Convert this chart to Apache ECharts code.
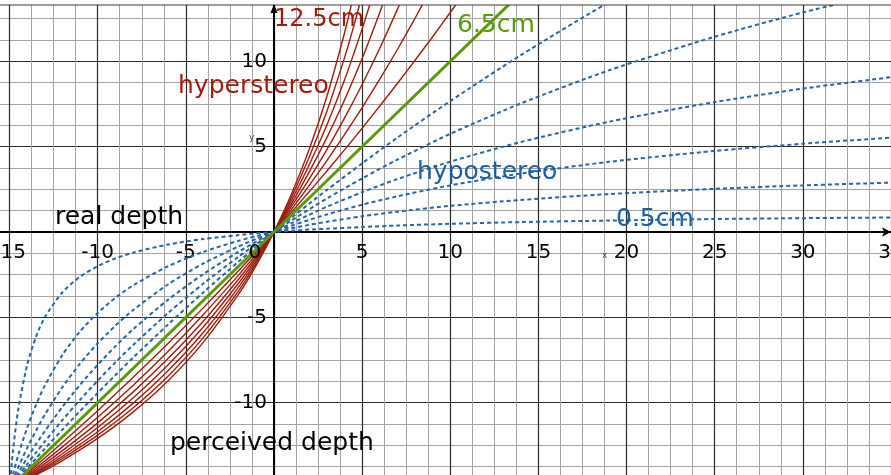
<!DOCTYPE html>
<html><head><meta charset="utf-8">
<script src="https://cdn.jsdelivr.net/npm/echarts@6/dist/echarts.min.js"></script>
<style>html,body{margin:0;padding:0;background:#fff}#c{width:891px;height:475px}</style>
</head><body><div id="c"></div>
<script>
// x: real depth, y: perceived depth, curves labelled by camera baseline
const xTicks = [-20,-15,-10,-5,0,5,10,15,20,25,30,35];
const yTicks = [-15,-10,-5,0,5,10,15];
const yTickLabels = [-10,-5,5,10];
const originLabel = '0';

const hypo_0_5 = [[-15,-15],[-14.8,-12.76],[-14.5,-10.36],[-14,-7.78],[-13.5,-6.14],[-13,-5.0],[-12,-3.53],[-11,-2.62],[-10,-2.0],[-9,-1.55],[-8,-1.21],[-6,-0.73],[-4,-0.41],[-2,-0.18],[-1,-0.08],[0,0],[1,0.07],[2,0.14],[3,0.19],[5,0.29],[7,0.38],[10,0.48],[14,0.58],[19,0.67],[25,0.76],[30,0.81],[35,0.85]];
const hypo_1_5 = [[-15,-15],[-14.8,-14.17],[-14.5,-13.05],[-14,-11.46],[-13.5,-10.13],[-13,-9.0],[-12,-7.2],[-11,-5.82],[-10,-4.74],[-9,-3.86],[-8,-3.13],[-6,-2.0],[-4,-1.16],[-2,-0.51],[-1,-0.24],[0,0],[1,0.22],[2,0.42],[3,0.6],[5,0.92],[7,1.19],[10,1.53],[14,1.88],[19,2.22],[25,2.53],[30,2.73],[35,2.89]];
const hypo_2_5 = [[-15,-15],[-14.8,-14.49],[-14.5,-13.77],[-14,-12.65],[-13.5,-11.64],[-13,-10.71],[-12,-9.09],[-11,-7.71],[-10,-6.52],[-9,-5.49],[-8,-4.58],[-6,-3.06],[-4,-1.84],[-2,-0.84],[-1,-0.4],[0,0],[1,0.37],[2,0.71],[3,1.03],[5,1.6],[7,2.09],[10,2.73],[14,3.42],[19,4.11],[25,4.75],[30,5.17],[35,5.53]];
const hypo_3_5 = [[-15,-15],[-14.8,-14.63],[-14.5,-14.1],[-14,-13.24],[-13.5,-12.43],[-13,-11.67],[-12,-10.24],[-11,-8.95],[-10,-7.78],[-9,-6.7],[-8,-5.71],[-6,-3.96],[-4,-2.46],[-2,-1.15],[-1,-0.56],[0,0],[1,0.52],[2,1.01],[3,1.48],[5,2.33],[7,3.1],[10,4.12],[14,5.27],[19,6.46],[25,7.61],[30,8.4],[35,9.07]];
const hypo_4_5 = [[-15,-15],[-14.8,-14.71],[-14.5,-14.29],[-14,-13.6],[-13.5,-12.93],[-13,-12.27],[-12,-11.02],[-11,-9.83],[-10,-8.71],[-9,-7.64],[-8,-6.63],[-6,-4.74],[-4,-3.02],[-2,-1.44],[-1,-0.71],[0,0],[1,0.68],[2,1.33],[3,1.96],[5,3.14],[7,4.24],[10,5.75],[14,7.53],[19,9.47],[25,11.44],[30,12.86],[35,14.1]];
const hypo_5_5 = [[-15,-15],[-14.8,-14.76],[-14.5,-14.41],[-14,-13.83],[-13.5,-13.26],[-13,-12.69],[-12,-11.58],[-11,-10.49],[-10,-9.43],[-9,-8.39],[-8,-7.37],[-6,-5.41],[-4,-3.53],[-2,-1.73],[-1,-0.86],[0,0],[1,0.84],[2,1.66],[3,2.46],[5,4.02],[7,5.53],[10,7.67],[14,10.36],[19,13.46],[25,16.84]];

const ortho_6_5 = [[-15,-15],[0,0],[14,14]];

const hyper_7_5 = [[-15,-15],[-14,-14.13],[-13,-13.24],[-12,-12.33],[-10,-10.47],[-8,-8.53],[-6,-6.52],[-4,-4.43],[-2,-2.26],[-1,-1.14],[0,0],[1,1.17],[2,2.36],[3,3.57],[4,4.81],[5,6.08],[6,7.38],[7,8.7],[8,10.06],[9,11.44],[10,12.86],[11,14.31]];
const hyper_8_5 = [[-15,-15],[-14,-14.22],[-13,-13.42],[-12,-12.59],[-10,-10.85],[-8,-8.99],[-6,-6.99],[-4,-4.83],[-2,-2.51],[-1,-1.28],[0,0],[1,1.34],[2,2.73],[3,4.18],[4,5.7],[5,7.29],[6,8.95],[7,10.69],[8,12.52],[9,14.43]];
const hyper_9_5 = [[-15,-15],[-14,-14.3],[-13,-13.57],[-12,-12.81],[-10,-11.18],[-8,-9.38],[-6,-7.4],[-4,-5.21],[-2,-2.75],[-1,-1.42],[0,0],[1,1.51],[2,3.11],[3,4.83],[4,6.67],[5,8.64],[6,10.76],[7,13.04],[7.5,14.25]];
const hyper_10_5 = [[-15,-15],[-14,-14.37],[-13,-13.7],[-12,-12.99],[-10,-11.45],[-8,-9.73],[-6,-7.78],[-4,-5.55],[-2,-2.99],[-1,-1.55],[0,0],[1,1.68],[2,3.52],[3,5.53],[4,7.73],[5,10.16],[6,12.86],[6.5,14.32]];
const hyper_11_5 = [[-15,-15],[-14,-14.42],[-13,-13.8],[-12,-13.14],[-10,-11.7],[-8,-10.04],[-6,-8.12],[-4,-5.87],[-2,-3.21],[-1,-1.68],[0,0],[1,1.87],[2,3.94],[3,6.27],[4,8.9],[5,11.9],[5.5,13.55],[6,15.33]];
const hyper_12_5 = [[-15,-15],[-14,-14.46],[-13,-13.89],[-12,-13.27],[-10,-11.9],[-8,-10.31],[-6,-8.43],[-4,-6.17],[-2,-3.43],[-1,-1.81],[0,0],[1,2.05],[2,4.39],[3,7.08],[4,10.2],[4.5,11.97],[5,13.89],[5.5,15.99]];
const hyper_13_5 = [[-15,-15],[-14,-14.5],[-13,-13.97],[-12,-13.39],[-10,-12.09],[-8,-10.55],[-6,-8.71],[-4,-6.45],[-2,-3.63],[-1,-1.94],[0,0],[1,2.24],[2,4.85],[3,7.94],[4,11.66],[4.5,13.81],[5,16.2]];

const hypoCurves = [hypo_0_5, hypo_1_5, hypo_2_5, hypo_3_5, hypo_4_5, hypo_5_5];
const hyperCurves = [hyper_7_5, hyper_8_5, hyper_9_5, hyper_10_5, hyper_11_5, hyper_12_5, hyper_13_5];

const FONT = 'DejaVu Sans';
const RED = '#9e1c0c', GREEN = '#5a9a0a', BLUE = '#2466a8', BLUE_TXT = '#1c5e9e';

const series = [];
hypoCurves.forEach(d => series.push({
  type:'line', data:d, symbol:'none', showSymbol:false,
  smooth:0.25, silent:true, animation:false, z:3,
  lineStyle:{color:BLUE, width:2, type:[4,3]}
}));
hyperCurves.forEach(d => series.push({
  type:'line', data:d, symbol:'none', showSymbol:false,
  smooth:0.25, silent:true, animation:false, z:4,
  lineStyle:{color:RED, width:1.4}
}));
series.push({
  type:'line', data:ortho_6_5, symbol:'none', showSymbol:false,
  silent:true, animation:false, z:5, lineStyle:{color:GREEN, width:3}
});

function txt(text, x, y, color, size, align){
  return {type:'text', x:x, y:y, z:50, silent:true,
    style:{text:text, fill:color, fontSize:size, fontFamily:FONT, align:align || 'left', verticalAlign:'middle'}};
}

const GRID = {left:-78.6, right:0, top:-24.05, bottom:-13.05};
const option = {
  backgroundColor:'#fff',
  animation:false,
  grid:Object.assign({outerBoundsMode:'none', containLabel:false}, GRID),
  xAxis:{type:'value', min:xTicks[0], max:xTicks[xTicks.length-1], interval:5, position:'bottom',
     offset:-256.05,
     axisLine:{show:true, onZero:false, lineStyle:{color:'#000', width:2}, symbol:['none','arrow'], symbolSize:[7,9]},
     axisTick:{show:false}, minorTick:{show:false, splitNumber:4},
     axisLabel:{show:true, showMinLabel:true, showMaxLabel:true, hideOverlap:false, margin:11, fontSize:20, fontFamily:FONT, color:'#000',
       formatter:v => v === 0 ? '' : String(v)},
     splitLine:{show:true, lineStyle:{color:'#2a2a2a', width:1.2}},
     minorSplitLine:{show:true, lineStyle:{color:'#a3a3a3', width:1}}},
  yAxis:{type:'value', min:yTicks[0], max:yTicks[yTicks.length-1], interval:5, position:'left',
     offset:-352.6,
     axisLine:{show:true, onZero:false, lineStyle:{color:'#000', width:2}},
     axisTick:{show:false}, minorTick:{show:false, splitNumber:4},
     axisLabel:{show:true, hideOverlap:false, margin:7, fontSize:20, fontFamily:FONT, color:'#000',
       formatter:v => yTickLabels.indexOf(v) >= 0 ? String(v) : ''},
     splitLine:{show:true, lineStyle:{color:'#2a2a2a', width:1.2}},
     minorSplitLine:{show:true, lineStyle:{color:'#a3a3a3', width:1}}},
  series:series
};
const chart = echarts.init(document.getElementById('c'));
chart.setOption(option);
const o = chart.convertToPixel({gridIndex:0}, [0,0]);
chart.setOption({
  graphic:[
    {type:'rect', z:40, silent:true, shape:{x:0, y:0, width:891, height:5}, style:{fill:'#fff'}},
    {type:'line', z:41, silent:true, shape:{x1:0, y1:5, x2:891, y2:5}, style:{stroke:'#3a3a3a', lineWidth:1}},
    {type:'polygon', z:42, silent:true, shape:{points:[[o[0],4],[o[0]-3.5,13],[o[0]+3.5,13]]}, style:{fill:'#000'}},
    {type:'text', x:o[0]-19, y:o[1]+21, z:20, silent:true,
     style:{text:originLabel, fill:'#000', fontSize:20, fontFamily:FONT, align:'center', verticalAlign:'middle'}},
    txt('real depth', 55, 217, '#000', 25),
    txt('perceived depth', 170, 443, '#000', 25),
    txt('12.5cm', 274, 20, RED, 24),
    txt('hyperstereo', 178, 86, RED, 25),
    txt('6.5cm', 457, 25, GREEN, 25),
    txt('hypostereo', 417, 172, BLUE_TXT, 25),
    txt('0.5cm', 616, 219, BLUE_TXT, 25),
    txt('y', 249, 138, '#444', 9),
    txt('x', 602, 256, '#444', 9)
  ]
});
</script>
</body></html>
